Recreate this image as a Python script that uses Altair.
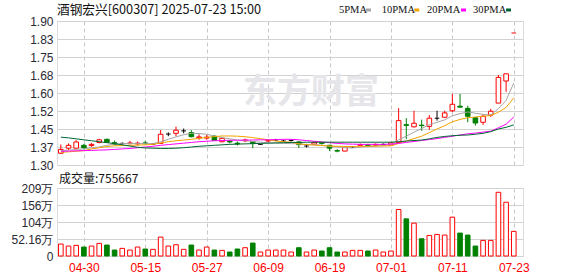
import altair as alt
import pandas as pd

# ---------------- data ----------------
dates = ["04-25", "04-28", "04-29", "04-30", "05-06", "05-07", "05-08", "05-09", "05-12", "05-13",
         "05-14", "05-15", "05-16", "05-19", "05-20", "05-21", "05-22", "05-23", "05-26", "05-27",
         "05-28", "05-29", "05-30", "06-03", "06-04", "06-05", "06-06", "06-09", "06-10", "06-11",
         "06-12", "06-13", "06-16", "06-17", "06-18", "06-19", "06-20", "06-23", "06-24", "06-25",
         "06-26", "06-27", "06-30", "07-01", "07-02", "07-03", "07-04", "07-07", "07-08", "07-09",
         "07-10", "07-11", "07-14", "07-15", "07-16", "07-17", "07-18", "07-21", "07-22", "07-23"]

opens = [1.349, 1.370, 1.370, 1.382, 1.381, 1.394, 1.407, 1.393, 1.390, 1.389,
         1.388, 1.392, 1.387, 1.390, 1.429, 1.432, 1.442, 1.435, 1.413, 1.412,
         1.420, 1.397, 1.400, 1.391, 1.401, 1.397, 1.386, 1.400, 1.404, 1.400,
         1.402, 1.396, 1.379, 1.387, 1.393, 1.382, 1.360, 1.358, 1.375, 1.382,
         1.385, 1.382, 1.386, 1.383, 1.394, 1.468, 1.459, 1.466, 1.461, 1.495,
         1.499, 1.526, 1.545, 1.536, 1.497, 1.478, 1.508, 1.558, 1.650, 1.850]
closes = [1.365, 1.382, 1.396, 1.372, 1.386, 1.405, 1.395, 1.386, 1.390, 1.392,
          1.391, 1.389, 1.387, 1.428, 1.429, 1.445, 1.442, 1.418, 1.417, 1.416,
          1.403, 1.411, 1.396, 1.388, 1.404, 1.390, 1.386, 1.403, 1.404, 1.400,
          1.402, 1.385, 1.379, 1.394, 1.390, 1.370, 1.358, 1.375, 1.375, 1.385,
          1.381, 1.386, 1.386, 1.392, 1.485, 1.465, 1.474, 1.464, 1.495, 1.495,
          1.517, 1.553, 1.541, 1.503, 1.475, 1.503, 1.524, 1.665, 1.680, 1.850]
highs = [1.386, 1.390, 1.403, 1.388, 1.392, 1.409, 1.410, 1.402, 1.394, 1.401,
         1.398, 1.401, 1.390, 1.446, 1.436, 1.460, 1.452, 1.445, 1.428, 1.425,
         1.425, 1.413, 1.404, 1.398, 1.410, 1.400, 1.387, 1.407, 1.409, 1.405,
         1.407, 1.400, 1.388, 1.397, 1.396, 1.384, 1.366, 1.376, 1.378, 1.390,
         1.388, 1.390, 1.390, 1.395, 1.537, 1.495, 1.526, 1.489, 1.508, 1.526,
         1.526, 1.596, 1.596, 1.547, 1.497, 1.510, 1.534, 1.675, 1.680, 1.850]
lows = [1.347, 1.362, 1.368, 1.366, 1.376, 1.390, 1.393, 1.382, 1.384, 1.386,
        1.382, 1.386, 1.384, 1.388, 1.420, 1.420, 1.432, 1.415, 1.405, 1.405,
        1.400, 1.395, 1.390, 1.381, 1.395, 1.370, 1.385, 1.396, 1.400, 1.397,
        1.398, 1.371, 1.373, 1.383, 1.385, 1.358, 1.353, 1.357, 1.372, 1.378,
        1.378, 1.378, 1.382, 1.381, 1.392, 1.408, 1.457, 1.443, 1.447, 1.485,
        1.497, 1.520, 1.540, 1.478, 1.464, 1.467, 1.500, 1.558, 1.605, 1.850]
# candle colour as drawn: r = red (rise), g = green (fall), k = black cross
candle_colors = ["r", "r", "r", "g", "r", "r", "g", "g", "k", "r",
                 "r", "g", "k", "r", "k", "r", "k", "g", "r", "r",
                 "g", "r", "g", "g", "r", "g", "k", "r", "k", "k",
                 "k", "g", "k", "r", "g", "g", "g", "r", "k", "r",
                 "g", "r", "k", "r", "r", "g", "r", "g", "r", "k",
                 "r", "r", "g", "g", "g", "r", "r", "r", "r", "r"]
volumes = [367000, 305000, 326000, 275000, 305000, 387000, 336000, 183000, 234000, 183000,
           275000, 214000, 204000, 580000, 305000, 346000, 204000, 336000, 183000, 275000,
           183000, 173000, 122000, 214000, 255000, 397000, 122000, 183000, 183000, 183000,
           122000, 254000, 122000, 183000, 153000, 254000, 122000, 122000, 173000, 173000,
           153000, 183000, 122000, 153000, 1426000, 1140000, 1008000, 529000, 631000, 662000,
           642000, 1191000, 703000, 642000, 305000, 479000, 479000, 1955000, 1650000, 755667]

ma5 = [1.360, 1.362, 1.365, 1.367, 1.372, 1.375, 1.382, 1.387, 1.389, 1.390,
       1.390, 1.389, 1.389, 1.397, 1.407, 1.417, 1.426, 1.432, 1.431, 1.428,
       1.421, 1.414, 1.409, 1.404, 1.401, 1.398, 1.395, 1.393, 1.391, 1.390,
       1.389, 1.388, 1.385, 1.385, 1.382, 1.378, 1.375, 1.372, 1.371, 1.374,
       1.377, 1.379, 1.381, 1.384, 1.405, 1.420, 1.437, 1.452, 1.468, 1.478,
       1.488, 1.505, 1.514, 1.521, 1.516, 1.511, 1.508, 1.535, 1.569, 1.642]
ma10 = [1.353, 1.355, 1.357, 1.360, 1.367, 1.372, 1.377, 1.380, 1.381, 1.382,
        1.383, 1.384, 1.386, 1.392, 1.397, 1.401, 1.404, 1.407, 1.411, 1.415,
        1.418, 1.421, 1.421, 1.420, 1.418, 1.414, 1.410, 1.405, 1.400, 1.397,
        1.395, 1.388, 1.385, 1.383, 1.381, 1.379, 1.378, 1.377, 1.377, 1.378,
        1.378, 1.379, 1.379, 1.380, 1.390, 1.400, 1.410, 1.420, 1.435, 1.450,
        1.464, 1.480, 1.490, 1.497, 1.500, 1.503, 1.506, 1.520, 1.540, 1.580]
ma20 = [1.357, 1.358, 1.359, 1.360, 1.361, 1.362, 1.363, 1.365, 1.367, 1.369,
        1.372, 1.375, 1.378, 1.382, 1.385, 1.388, 1.391, 1.394, 1.397, 1.399,
        1.401, 1.402, 1.403, 1.403, 1.404, 1.404, 1.405, 1.405, 1.406, 1.407,
        1.407, 1.405, 1.402, 1.399, 1.396, 1.393, 1.390, 1.388, 1.387, 1.386,
        1.386, 1.386, 1.386, 1.387, 1.390, 1.394, 1.398, 1.402, 1.406, 1.410,
        1.415, 1.420, 1.425, 1.430, 1.433, 1.437, 1.441, 1.455, 1.470, 1.500]
ma30 = [1.416, 1.413, 1.409, 1.405, 1.401, 1.397, 1.393, 1.389, 1.384, 1.379,
        1.374, 1.371, 1.370, 1.369, 1.369, 1.370, 1.372, 1.375, 1.378, 1.380,
        1.382, 1.384, 1.386, 1.387, 1.388, 1.389, 1.390, 1.391, 1.392, 1.393,
        1.394, 1.394, 1.395, 1.395, 1.395, 1.395, 1.395, 1.395, 1.395, 1.395,
        1.395, 1.395, 1.395, 1.395, 1.397, 1.400, 1.402, 1.404, 1.409, 1.415,
        1.419, 1.422, 1.424, 1.425, 1.428, 1.432, 1.439, 1.450, 1.457, 1.467]

ma_names = ["5PMA", "10PMA", "20PMA", "30PMA"]
ma_colors = ["#a6a6a6", "#f5a300", "#ff00ff", "#006633"]

price_ticks = [1.30, 1.375, 1.45, 1.525, 1.60, 1.675, 1.75, 1.825, 1.90]
price_tick_labels = ["1.30", "1.37", "1.45", "1.52", "1.60", "1.68", "1.75", "1.83", "1.90"]
vol_ticks = [0, 521600, 1043200, 1564800, 2086400]
vol_tick_labels = ["0", "52.16万", "104万", "156万", "209万"]
date_tick_idx = [3, 11, 19, 27, 35, 43, 51, 59]

title_text = "酒钢宏兴[600307] 2025-07-23 15:00"
vol_text = "成交量:755667"
watermark_text = "东方财富"

# ---------------- styling ----------------
RED = "#ff0000"
GREEN = "#008000"
BLACK = "#000000"
LABEL = "#2a2a33"
PW = 466

df = pd.DataFrame({
    "idx": list(range(len(dates))), "date": dates, "open": opens, "high": highs,
    "low": lows, "close": closes, "c": candle_colors, "vol": volumes,
})
df["xl"] = df["idx"] - 0.3
df["xr"] = df["idx"] + 0.3
df["vc"] = ["g" if c == "g" else "r" for c in candle_colors]
df["zero"] = 0
body_df = df[df["open"] != df["close"]]
flat_df = df[df["open"] == df["close"]]

x_scale = alt.Scale(domain=[-0.5, 60.2], nice=False, zero=False)
p_scale = alt.Scale(domain=[1.30, 1.90], nice=False, zero=False)
v_scale = alt.Scale(domain=[0, 2086400], nice=False, zero=False)
stroke_scale = alt.Scale(domain=["r", "g", "k"], range=[RED, GREEN, BLACK])
fill_scale = alt.Scale(domain=["r", "g", "k"], range=["#ffffff", GREEN, BLACK])

price_label_expr = "[" + ",".join("'%s'" % s for s in price_tick_labels) + "][round((datum.value - 1.3) / 0.075)]"
vol_label_expr = "[" + ",".join("'%s'" % s for s in vol_tick_labels) + "][round(datum.value / 521600)]"
date_label_expr = "[" + ",".join("'%s'" % s for s in dates) + "][round(datum.value)]"

x_axis_p = alt.Axis(values=date_tick_idx, labels=False, ticks=False, domain=False, grid=True,
                    gridDash=[4, 3], gridColor="#c8c8c8", title=None)
y_axis_p = alt.Axis(values=price_ticks, labelExpr=price_label_expr, grid=True, gridColor="#d2d2d2",
                    domain=False, ticks=False, labelFontSize=12, labelFont="Liberation Sans",
                    labelColor=LABEL, labelPadding=4, title=None, labelOverlap=False)
x_axis_v = alt.Axis(values=date_tick_idx, labelExpr=date_label_expr, labelColor=RED, labelFontSize=12,
                    labelFont="Liberation Sans", labelPadding=6, ticks=False, domain=False, grid=True,
                    gridDash=[4, 3], gridColor="#c8c8c8", title=None, labelFlush=False, labelOverlap=False)
y_axis_v = alt.Axis(values=vol_ticks, labelExpr=vol_label_expr, grid=True, gridColor="#d2d2d2",
                    domain=False, ticks=False, labelFontSize=12, labelFont="Liberation Sans",
                    labelColor=LABEL, labelPadding=4, title=None, labelOverlap=False)

one = pd.DataFrame({"a": [0]})

# ---------------- price panel ----------------
watermark = alt.Chart(one).mark_text(
    text=watermark_text, font="Noto Sans CJK SC", fontSize=34, fontWeight="bold",
    color="#e6e6ea", align="center", baseline="middle"
).encode(x=alt.value(254), y=alt.value(72))

wicks = alt.Chart(df).mark_rule(strokeWidth=1).encode(
    x=alt.X("idx:Q", scale=x_scale, axis=x_axis_p),
    y=alt.Y("low:Q", scale=p_scale, axis=y_axis_p),
    y2="high:Q",
    stroke=alt.Stroke("c:N", scale=stroke_scale, legend=None),
)
bodies = alt.Chart(body_df).mark_rect(strokeWidth=1).encode(
    x=alt.X("xl:Q", scale=x_scale, axis=x_axis_p), x2="xr:Q",
    y=alt.Y("open:Q", scale=p_scale, axis=y_axis_p), y2="close:Q",
    fill=alt.Fill("c:N", scale=fill_scale, legend=None),
    stroke=alt.Stroke("c:N", scale=stroke_scale, legend=None),
)
flats = alt.Chart(flat_df).mark_rule(strokeWidth=1).encode(
    x=alt.X("xl:Q", scale=x_scale, axis=x_axis_p), x2="xr:Q",
    y=alt.Y("close:Q", scale=p_scale, axis=y_axis_p),
    stroke=alt.Stroke("c:N", scale=stroke_scale, legend=None),
)

ma_layers = []
for name, vals, col in zip(ma_names, [ma5, ma10, ma20, ma30], ma_colors):
    mdf = pd.DataFrame({"idx": list(range(len(vals))), "v": vals})
    ma_layers.append(
        alt.Chart(mdf).mark_line(color=col, strokeWidth=1).encode(
            x=alt.X("idx:Q", scale=x_scale, axis=x_axis_p),
            y=alt.Y("v:Q", scale=p_scale, axis=y_axis_p),
        )
    )

title = alt.Chart(one).mark_text(
    text=title_text, font="Noto Sans CJK SC", fontSize=12.7, color="#111",
    align="left", baseline="middle"
).encode(x=alt.value(0), y=alt.value(-11))

legend_text_x = [282, 324.7, 370, 416]
legend_sq_x = [309, 357.3, 404, 449]
legend_layers = []
for name, col, tx, sx in zip(ma_names, ma_colors, legend_text_x, legend_sq_x):
    legend_layers.append(alt.Chart(one).mark_text(
        text=name, font="Liberation Serif", fontSize=10.5, color="#111",
        align="left", baseline="middle").encode(x=alt.value(tx), y=alt.value(-11)))
    legend_layers.append(alt.Chart(one).mark_rect(color=col).encode(
        x=alt.value(sx), x2=alt.value(sx + 5), y=alt.value(-12.5), y2=alt.value(-9.5)))

price = alt.layer(watermark, wicks, bodies, flats, *ma_layers, title, *legend_layers).properties(
    width=PW, height=144)

# ---------------- volume panel ----------------
vbars = alt.Chart(df).mark_rect(strokeWidth=1).encode(
    x=alt.X("xl:Q", scale=x_scale, axis=x_axis_v), x2="xr:Q",
    y=alt.Y("vol:Q", scale=v_scale, axis=y_axis_v), y2="zero:Q",
    fill=alt.Fill("vc:N", scale=fill_scale, legend=None),
    stroke=alt.Stroke("vc:N", scale=stroke_scale, legend=None),
)
vlabel = alt.Chart(one).mark_text(
    text=vol_text, font="Noto Sans CJK SC", fontSize=12, color="#111",
    align="left", baseline="middle"
).encode(x=alt.value(2), y=alt.value(-9.5))

volume = alt.layer(vbars, vlabel).properties(width=PW, height=68)

chart = alt.vconcat(price, volume, spacing=23, bounds="flush").properties(
    padding={"left": 10, "top": 3, "right": 5, "bottom": 5}
).configure_view(stroke="#999999").configure(background="white")

chart.save("out.html", embed_options={"renderer": "svg", "actions": False})
